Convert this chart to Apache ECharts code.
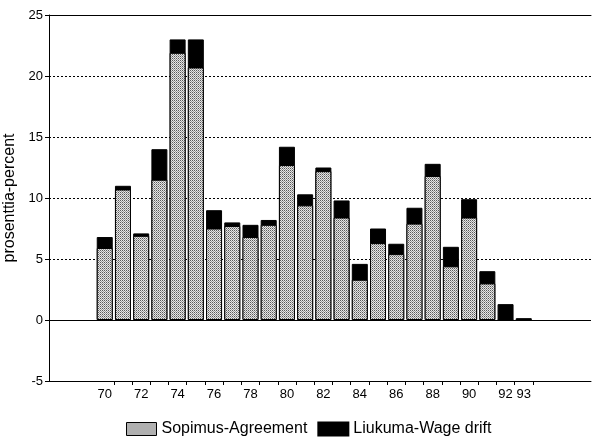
<!DOCTYPE html>
<html>
<head>
<meta charset="utf-8">
<script src="https://cdn.jsdelivr.net/npm/echarts@6/dist/echarts.min.js"></script>
<style>
html,body{margin:0;padding:0;background:#fff;}
#chart{width:594px;height:438px;}
</style>
</head>
<body>
<div id="chart"></div>
<script>
// ---- data ----
var years = [1970,1971,1972,1973,1974,1975,1976,1977,1978,1979,1980,1981,1982,1983,1984,1985,1986,1987,1988,1989,1990,1991,1992,1993];
var agreement = [5.9,10.7,6.9,11.5,21.9,20.7,7.5,7.7,6.8,7.8,12.7,9.4,12.2,8.4,3.3,6.3,5.4,7.9,11.8,4.4,8.4,3.0,0,0];
var wageDrift = [0.9,0.3,0.2,2.5,1.1,2.3,1.5,0.3,1.0,0.4,1.5,0.9,0.3,1.4,1.3,1.2,0.85,1.3,1.0,1.6,1.5,1.0,1.3,0.15];
var labelYears = [1970,1972,1974,1976,1978,1980,1982,1984,1986,1988,1990,1992,1993];
var tickYears = [1970.5,1971.5,1972.5,1973.5,1974.5,1975.5,1976.5,1977.5,1978.5,1979.5,1980.5,1981.5,1982.5,1983.5,1984.5,1985.5,1986.5,1987.5,1988.5,1989.5,1990.5,1991.5,1992.5,1993.5];
var seriesNames = ['Sopimus-Agreement','Liukuma-Wage drift'];
var yAxisName = 'prosenttia-percent';

// stacked top = agreement + wage drift
var totals = agreement.map(function(a,i){ return Math.round((a + wageDrift[i])*100)/100; });

// stipple pattern
var pc = document.createElement('canvas');
pc.width = 2; pc.height = 2;
var pctx = pc.getContext('2d');
pctx.fillStyle = '#e6e6e6'; pctx.fillRect(0,0,2,2);
pctx.fillStyle = '#5a5a5a'; pctx.fillRect(0,0,1,1);
pctx.fillStyle = '#9a9a9a'; pctx.fillRect(1,1,1,1);
var stipple = {image: pc, repeat: 'repeat'};

var font = 'Liberation Sans, Arial, Helvetica, sans-serif';
var xMin = 1966.94, xMax = 1996.69;

var chart = echarts.init(document.getElementById('chart'), null, {renderer:'canvas'});
chart.setOption({
  animation: false,
  textStyle: {fontFamily: font, color: '#000'},
  grid: {left: 49, top: 15, right: 3, bottom: 57, containLabel: false, outerBoundsMode: 'none'},
  legend: {
    left: 121, top: 416,
    itemWidth: 30, itemHeight: 13, itemGap: 10,
    icon: 'rect',
    textStyle: {fontFamily: font, fontSize: 16, color: '#000'},
    data: [
      {name: seriesNames[0], itemStyle: {color: stipple, borderColor: '#000', borderWidth: 1}},
      {name: seriesNames[1], itemStyle: {color: '#000'}}
    ]
  },
  xAxis: [{
    type: 'value', position: 'bottom', min: xMin, max: xMax,
    axisLine: {onZero: false, lineStyle: {color: '#000', width: 1}},
    axisTick: {show: true, inside: false, length: 4, customValues: tickYears, lineStyle: {color: '#000'}},
    axisLabel: {customValues: labelYears, margin: 7, fontSize: 13, color: '#000', fontFamily: font,
      formatter: function(v){ return String(Math.round(v)).slice(2); }},
    splitLine: {show: false}
  },{
    type: 'value', position: 'top', min: xMin, max: xMax,
    axisLine: {onZero: false, lineStyle: {color: '#000', width: 1}},
    axisTick: {show: false}, axisLabel: {show: false}, splitLine: {show: false}
  }],
  yAxis: {
    type: 'value', min: -5, max: 25, interval: 5,
    name: yAxisName, nameLocation: 'middle', nameGap: 23, nameRotate: 90,
    nameTextStyle: {fontSize: 16, color: '#000', fontFamily: font},
    axisLine: {show: true, lineStyle: {color: '#000', width: 1}},
    axisTick: {show: true, inside: false, length: 4, lineStyle: {color: '#000'}},
    axisLabel: {fontSize: 13, color: '#000', margin: 6, fontFamily: font},
    splitLine: {show: true, lineStyle: {color: '#000', type: [2,2], width: 1}}
  },
  series: [{
    name: seriesNames[1], type: 'bar', barWidth: 16, barGap: '-100%',
    data: years.map(function(y,i){ return [y, totals[i]]; }),
    itemStyle: {color: '#000', borderColor: '#000', borderWidth: 1},
    markLine: {silent: true, symbol: 'none', label: {show: false},
      lineStyle: {color: '#000', type: 'solid', width: 1},
      data: [{yAxis: 0}]}
  },{
    name: seriesNames[0], type: 'bar', barWidth: 16, barGap: '-100%',
    data: years.map(function(y,i){ return [y, agreement[i]]; }),
    itemStyle: {color: stipple, borderColor: '#000', borderWidth: 1}
  }]
});
</script>
</body>
</html>
